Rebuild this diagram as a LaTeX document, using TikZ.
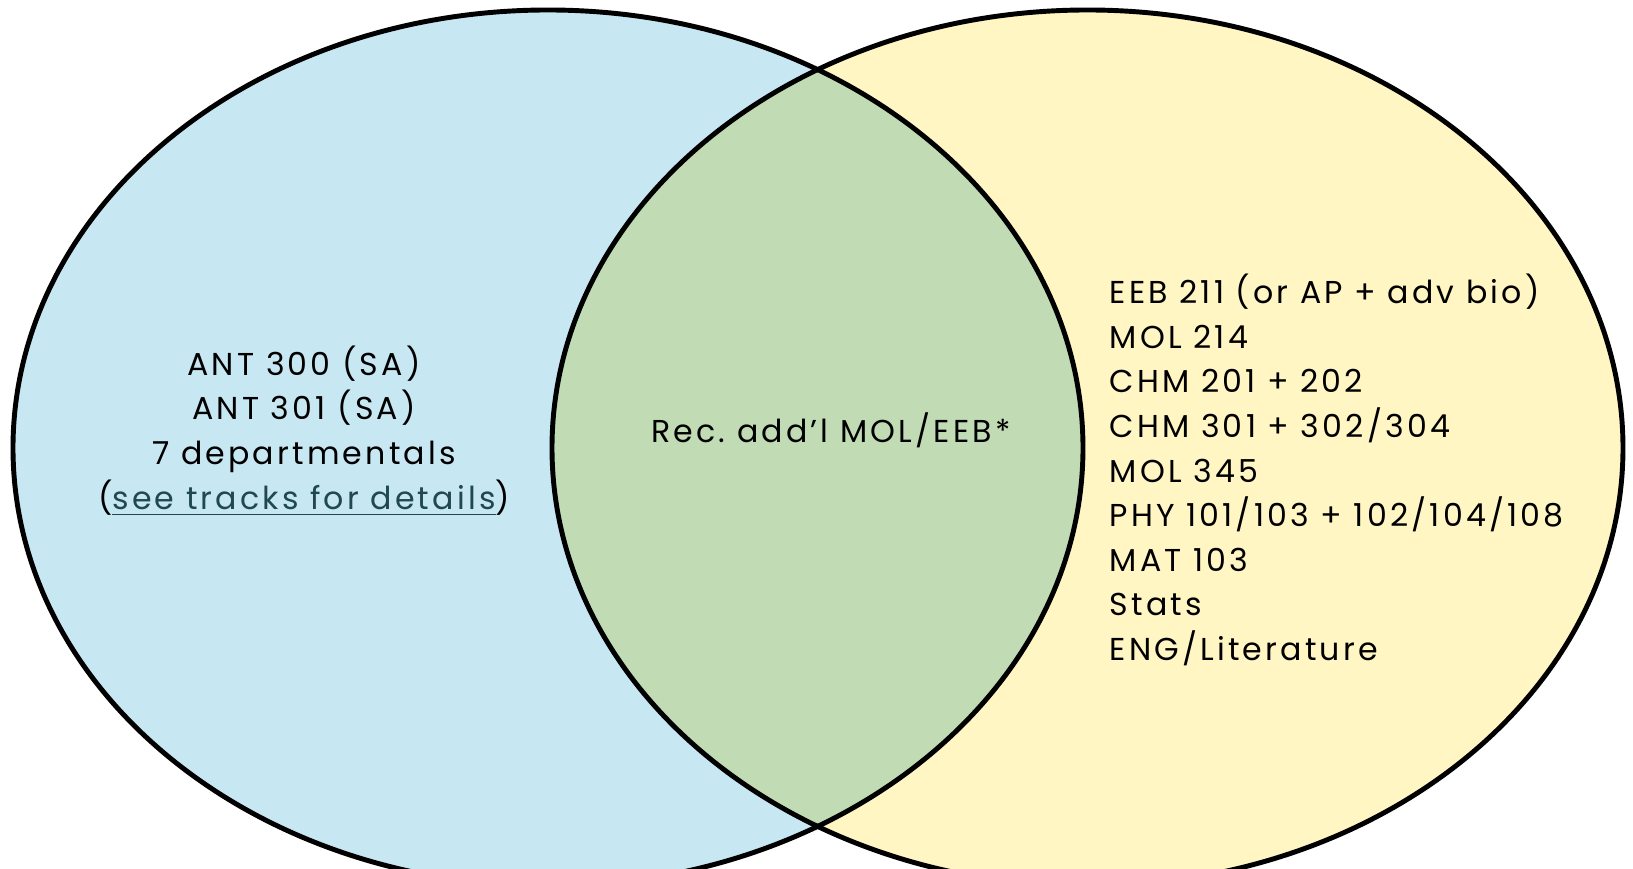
\documentclass[tikz,border=0pt]{standalone}
\usepackage{fontspec}
\setmainfont{Poppins}[LetterSpace=10]
\usepackage{tikz}

\definecolor{bluefill}{RGB}{199,231,242}
\definecolor{yellowfill}{RGB}{255,246,196}
\definecolor{greenfill}{RGB}{193,219,180}
\definecolor{linkcol}{RGB}{32,72,82}

\tikzset{
  ring/.style={line width=1.4pt, draw=black},
  settext/.style={font=\fontsize{9}{12.7}\selectfont, inner sep=0pt},
}

\begin{document}
\begin{tikzpicture}
    \useasboundingbox (0,0) rectangle (16.33,8.69);
    \fill[white] (0,0) rectangle (16.33,8.69);

    \coordinate (lc) at (5.48,4.21);
    \coordinate (rc) at (10.875,4.21);

    % the two sets and their overlap
    \fill[bluefill] (lc) ellipse (5.35 and 4.38);
    \fill[yellowfill] (rc) ellipse (5.355 and 4.38);
    \begin{scope}
        \clip (lc) ellipse (5.35 and 4.38);
        \fill[greenfill] (rc) ellipse (5.355 and 4.38);
    \end{scope}
    \draw[ring] (lc) ellipse (5.35 and 4.38);
    \draw[ring] (rc) ellipse (5.355 and 4.38);

    \node[settext, align=center] (anthro) at (3.04,4.38)
        {ANT 300 (SA)\\ANT 301 (SA)\\7 departmentals\\(\textcolor{linkcol}{\underline{see tracks for details}})};
    \node[settext] (both) at (8.31,4.39) {Rec.\ add’l MOL/EEB*};
    \node[settext, align=left, anchor=west] (premed) at (11.09,3.99)
        {EEB 211 (or AP + adv bio)\\MOL 214\\CHM 201 + 202\\CHM 301 + 302/304\\MOL 345\\PHY 101/103 + 102/104/108\\MAT 103\\Stats\\ENG/Literature};
\end{tikzpicture}
\end{document}
